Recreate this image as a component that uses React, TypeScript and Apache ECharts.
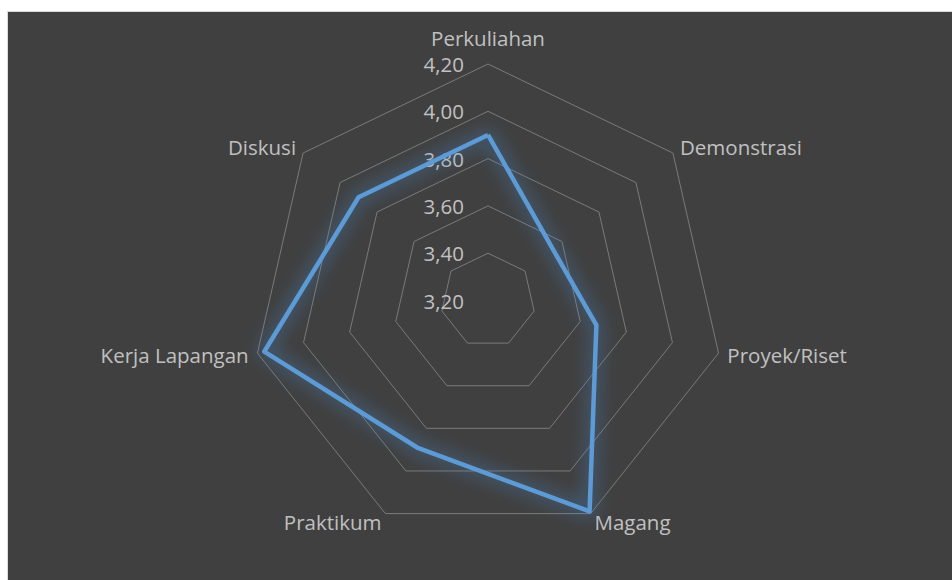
import React, { useEffect, useRef } from "react";
import * as echarts from "echarts";

const categories = ["Perkuliahan", "Demonstrasi", "Proyek/Riset", "Magang", "Praktikum", "Kerja Lapangan", "Diskusi"];
const values = [3.9, 3.55, 3.67, 4.19, 3.89, 4.17, 3.9];
const axisMin = 3.2;
const axisMax = 4.2;

// ECharts lays indicators counter-clockwise; reorder so they run clockwise like the reference
const order = [0, 6, 5, 4, 3, 2, 1];

export default function App() {
  const ref = useRef<HTMLDivElement>(null);
  useEffect(() => {
    if (!ref.current) return;
    const chart = echarts.init(ref.current, null, { renderer: "svg" });
    const fmt = (v: number) => Number(v).toFixed(2).replace(".", ",");
    chart.setOption({
      animation: false,
      radar: {
        center: [488, 300.5],
        radius: 236.5,
        startAngle: 90,
        shape: "polygon",
        splitNumber: 5,
        nameGap: 9,
        axisName: { color: "#c0c0c0", fontFamily: "Open Sans", fontSize: 20.5 },
        axisLine: { show: false },
        axisTick: { show: false },
        axisLabel: { show: false },
        splitArea: { show: false },
        splitLine: { lineStyle: { color: "#7a7a7a", width: 1 } },
        indicator: order.map((i, k) => {
          const ind: any = { name: categories[i], min: axisMin, max: axisMax };
          if (k === 0) {
            ind.axisLabel = {
              show: true,
              margin: 24,
              color: "#c0c0c0",
              fontFamily: "Open Sans",
              fontSize: 20.5,
              showMinLabel: true,
              showMaxLabel: true,
              formatter: fmt,
            };
            ind.nameTextStyle = { padding: [0, 0, 7, 0] };
          }
          return ind;
        }),
      },
      series: [
        {
          type: "radar",
          symbol: "none",
          lineStyle: {
            color: "#5b9bd5",
            width: 4.5,
            shadowBlur: 18,
            shadowColor: "rgba(70,140,215,0.95)",
          },
          data: [{ value: order.map((i) => values[i]) }],
        },
      ],
    });
    return () => chart.dispose();
  }, []);
  return (
    <div style={{ position: "fixed", left: 0, top: 0, width: 952, height: 580, background: "#ffffff" }}>
      <div
        style={{
          position: "absolute",
          left: 7,
          top: 11,
          width: 945,
          height: 569,
          boxSizing: "border-box",
          background: "#404040",
          border: "1px solid #d9d9d9",
          borderRight: "none",
          borderBottom: "none",
        }}
      />
      <div ref={ref} style={{ position: "absolute", left: 0, top: 0, width: 952, height: 580 }} />
    </div>
  );
}
